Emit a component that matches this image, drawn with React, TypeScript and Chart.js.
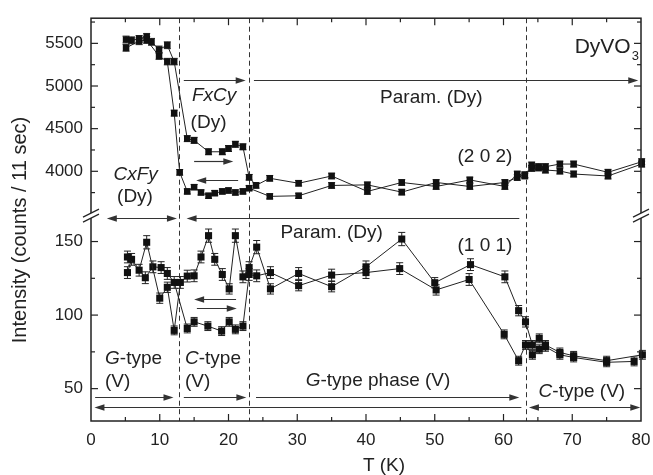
import React, { useEffect, useRef } from "react";
import { Chart, registerables } from "chart.js";

Chart.register(...registerables);

const FAMILY = "'Liberation Sans', Arial, Helvetica, sans-serif";
const INK = "#222";

// ---- (2 0 2) reflection, upper panel (counts) ----
const T_202_HEAT = [5.1, 5.9, 7.0, 8.1, 8.8, 9.9, 11.1, 12.1, 14.0, 15.0, 17.1, 19.1, 20.0, 21.0, 22.1, 23.0, 24.0, 26.0, 30.2, 35.0, 40.2, 45.2, 50.2, 55.1, 60.2, 62.0, 63.1, 64.1, 65.1, 66.1, 68.2, 70.2, 75.2, 80.1];
const I_202_HEAT = [5545, 5536, 5552, 5576, 5518, 5428, 5478, 5286, 4383, 4363, 4229, 4229, 4267, 4317, 4287, 3930, 3835, 3918, 3860, 3945, 3764, 3869, 3822, 3899, 3822, 3968, 3945, 4073, 4054, 4054, 4085, 4085, 3988, 4112];
const E_202_HEAT = [40, 40, 40, 40, 40, 40, 40, 38, 35, 35, 35, 35, 35, 35, 35, 33, 33, 33, 33, 33, 33, 33, 33, 33, 33, 33, 33, 35, 35, 35, 35, 35, 35, 35];

const T_202_COOL = [5.1, 7.0, 8.1, 9.9, 11.1, 12.1, 12.9, 14.0, 15.0, 16.0, 17.1, 18.0, 19.1, 20.0, 21.0, 22.1, 23.0, 26.0, 30.2, 35.0, 40.2, 45.2, 50.2, 55.1, 60.2, 62.0, 63.1, 64.1, 65.1, 66.1, 68.2, 70.2, 75.2, 80.1];
const I_202_COOL = [5448, 5525, 5540, 5351, 5286, 4682, 3988, 3764, 3814, 3752, 3713, 3744, 3764, 3775, 3752, 3764, 3802, 3706, 3713, 3834, 3841, 3756, 3869, 3822, 3869, 3927, 3960, 4035, 4040, 4015, 4003, 3968, 3945, 4085];
const E_202_COOL = [40, 40, 40, 38, 38, 35, 33, 30, 30, 30, 30, 30, 30, 30, 30, 30, 30, 30, 30, 33, 33, 33, 33, 33, 33, 33, 33, 35, 35, 35, 35, 35, 35, 35];

// ---- (1 0 1) reflection, lower panel (counts) ----
const T_101_COOL = [5.3, 7.0, 8.1, 10.0, 11.1, 12.1, 13.0, 14.0, 15.0, 16.0, 17.1, 18.0, 19.1, 20.1, 21.0, 22.1, 23.0, 24.1, 26.1, 30.2, 35.0, 40.0, 45.2, 50.0, 55.2, 60.2, 62.2, 63.2, 64.2, 65.2, 66.1, 68.2, 70.2, 75.0, 80.2];
const I_101_COOL = [139.5, 130.5, 149.5, 111.5, 118.9, 89.6, 122.2, 126.5, 126.7, 139.5, 154.0, 137.9, 127.6, 117.8, 154.0, 126.0, 132.3, 146.2, 117.8, 128.3, 119.3, 132.8, 151.7, 122.0, 134.3, 126.0, 103.0, 95.4, 79.7, 84.2, 79.7, 74.6, 72.3, 69.0, 73.0];
const E_101_COOL = [4, 4, 4.5, 3.5, 3.5, 3, 4, 4, 4, 4, 4.5, 4, 4, 3.5, 4.5, 4, 4, 4.5, 3.5, 4, 3.5, 4, 4.5, 3.5, 4, 4, 3.5, 3.5, 3, 3, 3, 3, 3, 3, 3];

const T_101_HEAT = [5.3, 5.9, 7.9, 9.0, 10.2, 11.1, 12.1, 14.0, 15.0, 17.0, 19.0, 20.1, 21.0, 22.1, 23.0, 24.1, 26.1, 30.2, 35.0, 40.0, 44.9, 50.2, 55.0, 60.1, 62.2, 63.2, 64.2, 65.2, 66.1, 68.2, 70.2, 75.0, 79.0];
const I_101_HEAT = [128.9, 137.9, 125.4, 132.8, 132.3, 128.3, 122.2, 90.9, 95.4, 92.5, 89.1, 95.4, 90.3, 92.5, 127.6, 126.7, 128.9, 120.0, 127.2, 128.9, 131.6, 117.1, 124.2, 86.9, 69.0, 79.7, 73.0, 76.8, 78.4, 73.0, 71.2, 67.9, 68.5];
const E_101_HEAT = [4, 4, 4, 4, 4, 4, 4, 3, 3, 3, 3, 3, 3, 3, 4, 4, 4, 3.5, 4, 4, 4, 3.5, 4, 3, 3, 3, 3, 3, 3, 3, 3, 3, 3];

// ---- axes ----
const X_TICKS = [0, 10, 20, 30, 40, 50, 60, 70, 80];
const TOP_TICKS = [4000, 4500, 5000, 5500];
const BOT_TICKS = [50, 100, 150];
const TOP_RANGE = [3480, 5795];
const BOT_RANGE = [28, 167.6];

// transition temperatures (dashed lines)
const TRANSITIONS = [12.85, 23.0, 63.2];

// arrows: [axis, level, fromT, toT, head]
const ARROWS: [string, number, number, number, string][] = [
  ["yTop", 5074, 13.5, 22.5, "end"],
  ["yTop", 5066, 23.7, 79.6, "end"],
  ["yTop", 4119, 15.0, 20.7, "end"],
  ["yTop", 3900, 15.3, 21.4, "start"],
  ["yBot", 166.3, 2.3, 12.5, "both"],
  ["yBot", 166.3, 13.9, 62.3, "start"],
  ["yBot", 110.6, 15.0, 21.1, "start"],
  ["yBot", 104.6, 15.4, 21.2, "end"],
  ["yBot", 44.2, 0.6, 12.0, "end"],
  ["yBot", 44.2, 13.5, 22.6, "end"],
  ["yBot", 44.2, 24.0, 62.3, "end"],
  ["yBot", 37.5, 0.5, 62.6, "start"],
  ["yBot", 37.5, 63.7, 79.9, "both"],
];

// labels: [axis, T, level, align, parts ([text, italic])]
const LABELS: [string, number, number, string, [string, boolean][]][] = [
  ["yTop", 17.9, 4881, "center", [["FxCy", true]]],
  ["yTop", 17.1, 4574, "center", [["(Dy)", false]]],
  ["yTop", 49.5, 4862, "center", [["Param. (Dy)", false]]],
  ["yTop", 57.3, 4173, "center", [["(2 0 2)", false]]],
  ["yTop", 6.5, 3957, "center", [["CxFy", true]]],
  ["yTop", 6.4, 3700, "center", [["(Dy)", false]]],
  ["yBot", 35.0, 156.2, "center", [["Param. (Dy)", false]]],
  ["yBot", 57.3, 146.8, "center", [["(1 0 1)", false]]],
  ["yBot", 2.04, 70.3, "left", [["G", true], ["-type", false]]],
  ["yBot", 2.04, 54.4, "left", [["(V)", false]]],
  ["yBot", 13.67, 70.3, "left", [["C", true], ["-type", false]]],
  ["yBot", 13.67, 54.4, "left", [["(V)", false]]],
  ["yBot", 41.75, 55.6, "center", [["G", true], ["-type phase (V)", false]]],
  ["yBot", 71.4, 48.2, "center", [["C", true], ["-type (V)", false]]],
];

function drawRich(ctx: any, parts: [string, boolean][], x: number, y: number, align: string, size: number) {
  const fontFor = (it: boolean) => `${it ? "italic " : ""}${size}px ${FAMILY}`;
  const widths = parts.map((p) => {
    ctx.font = fontFor(p[1]);
    return ctx.measureText(p[0]).width;
  });
  const total = widths.reduce((a, b) => a + b, 0);
  let cx = align === "center" ? x - total / 2 : align === "right" ? x - total : x;
  ctx.textAlign = "left";
  ctx.textBaseline = "middle";
  parts.forEach((p, i) => {
    ctx.font = fontFor(p[1]);
    ctx.fillText(p[0], cx, y);
    cx += widths[i];
  });
}

function drawArrow(ctx: any, x1: number, x2: number, y: number, head: string) {
  const hl = 10, hw = 3.2;
  let a = x1, b = x2;
  if (head === "start" || head === "both") a += hl - 2;
  if (head === "end" || head === "both") b -= hl - 2;
  ctx.beginPath();
  ctx.moveTo(a, y);
  ctx.lineTo(b, y);
  ctx.stroke();
  if (head === "start" || head === "both") {
    ctx.beginPath();
    ctx.moveTo(x1, y);
    ctx.lineTo(x1 + hl, y - hw);
    ctx.lineTo(x1 + hl, y + hw);
    ctx.closePath();
    ctx.fill();
  }
  if (head === "end" || head === "both") {
    ctx.beginPath();
    ctx.moveTo(x2, y);
    ctx.lineTo(x2 - hl, y - hw);
    ctx.lineTo(x2 - hl, y + hw);
    ctx.closePath();
    ctx.fill();
  }
}

const decor = {
  id: "decor",
  beforeDatasetsDraw(chart: any) {
    const { ctx, chartArea: a, scales } = chart;
    const xs = scales.x;
    ctx.save();
    ctx.strokeStyle = "#333";
    ctx.lineWidth = 1;
    ctx.setLineDash([5, 3.5]);
    TRANSITIONS.forEach((t) => {
      const x = Math.round(xs.getPixelForValue(t)) + 0.5;
      ctx.beginPath();
      ctx.moveTo(x, a.top);
      ctx.lineTo(x, a.bottom);
      ctx.stroke();
    });
    ctx.setLineDash([]);
    ctx.strokeStyle = INK;
    chart.data.datasets.forEach((ds: any, i: number) => {
      const meta = chart.getDatasetMeta(i);
      const ys = scales[ds.yAxisID];
      meta.data.forEach((el: any, j: number) => {
        const v = ds.data[j].y;
        const e = ds.errors[j];
        const x = el.x;
        const y1 = ys.getPixelForValue(v + e);
        const y2 = ys.getPixelForValue(v - e);
        ctx.beginPath();
        ctx.moveTo(x, y1);
        ctx.lineTo(x, y2);
        ctx.moveTo(x - 3.5, y1);
        ctx.lineTo(x + 3.5, y1);
        ctx.moveTo(x - 3.5, y2);
        ctx.lineTo(x + 3.5, y2);
        ctx.stroke();
      });
    });
    ctx.restore();
  },
  afterDatasetsDraw(chart: any) {
    const { ctx, chartArea: a, scales } = chart;
    const xs = scales.x;
    const yt = scales.yTop;
    const yb = scales.yBot;
    ctx.save();
    // frame
    ctx.strokeStyle = INK;
    ctx.lineWidth = 1.5;
    ctx.strokeRect(a.left, a.top, a.right - a.left, a.bottom - a.top);
    // ticks
    ctx.lineWidth = 1.2;
    const seg = (x1: number, y1: number, x2: number, y2: number) => {
      ctx.beginPath();
      ctx.moveTo(x1, y1);
      ctx.lineTo(x2, y2);
      ctx.stroke();
    };
    for (let t = 5; t < 80; t += 5) {
      const len = t % 10 === 0 ? 7 : 4;
      const x = xs.getPixelForValue(t);
      seg(x, a.bottom, x, a.bottom - len);
      seg(x, a.top, x, a.top + len);
    }
    const yTick = (y: number, len: number) => {
      seg(a.left, y, a.left + len, y);
      seg(a.right, y, a.right - len, y);
    };
    for (let v = 3750; v <= 5750; v += 250) yTick(yt.getPixelForValue(v), v % 500 === 0 ? 7 : 4);
    for (let v = 50; v <= 150; v += 25) yTick(yb.getPixelForValue(v), v % 50 === 0 ? 7 : 4);
    // axis breaks
    const ybk = yt.bottom;
    [a.left, a.right].forEach((x0) => {
      ctx.fillStyle = "#fff";
      ctx.beginPath();
      ctx.moveTo(x0 - 8, ybk - 2.5 + 4);
      ctx.lineTo(x0 + 8, ybk - 2.5 - 4);
      ctx.lineTo(x0 + 8, ybk + 2.5 - 4);
      ctx.lineTo(x0 - 8, ybk + 2.5 + 4);
      ctx.closePath();
      ctx.fill();
      ctx.strokeStyle = INK;
      ctx.lineWidth = 1.2;
      seg(x0 - 8, ybk - 2.5 + 4, x0 + 8, ybk - 2.5 - 4);
      seg(x0 - 8, ybk + 2.5 + 4, x0 + 8, ybk + 2.5 - 4);
    });
    // arrows
    ctx.strokeStyle = "#333";
    ctx.fillStyle = "#333";
    ctx.lineWidth = 1.2;
    ARROWS.forEach(([ax, lv, t1, t2, head]) => {
      const y = Math.round(scales[ax].getPixelForValue(lv)) + 0.5;
      drawArrow(ctx, xs.getPixelForValue(t1), xs.getPixelForValue(t2), y, head);
    });
    // labels
    ctx.fillStyle = INK;
    LABELS.forEach(([ax, t, lv, align, parts]) => {
      drawRich(ctx, parts, xs.getPixelForValue(t), scales[ax].getPixelForValue(lv), align, 19);
    });
    // compound name
    const nx = xs.getPixelForValue(78.5);
    const ny = yt.getPixelForValue(5455);
    ctx.font = `21px ${FAMILY}`;
    ctx.textAlign = "right";
    ctx.textBaseline = "middle";
    ctx.fillText("DyVO", nx, ny);
    ctx.font = `13px ${FAMILY}`;
    ctx.textAlign = "left";
    ctx.fillText("3", nx + 1, ny + 9);
    // axis titles
    ctx.font = `19px ${FAMILY}`;
    ctx.textAlign = "center";
    ctx.fillText("T (K)", 384, 466);
    ctx.save();
    ctx.translate(20, 230);
    ctx.rotate(-Math.PI / 2);
    ctx.font = `20px ${FAMILY}`;
    ctx.fillText("Intensity (counts / 11 sec)", 0, 0);
    ctx.restore();
    ctx.restore();
  },
};

function series(label: string, T: number[], I: number[], E: number[], axis: string, style: string, radius: number) {
  return {
    label,
    data: T.map((t, i) => ({ x: t, y: I[i] })),
    errors: E,
    yAxisID: axis,
    showLine: true,
    borderColor: INK,
    borderWidth: 1,
    pointStyle: style,
    pointRadius: radius,
    pointBackgroundColor: "#111",
    pointBorderColor: "#111",
    pointBorderWidth: 0,
    tension: 0,
    clip: false,
  };
}

const tickFont = { size: 17, family: FAMILY };

export default function App() {
  const ref = useRef<HTMLCanvasElement>(null);
  useEffect(() => {
    const canvas = ref.current as HTMLCanvasElement;
    const chart = new Chart(canvas, {
      type: "scatter",
      data: {
        datasets: [
          series("(2 0 2) heating", T_202_HEAT, I_202_HEAT, E_202_HEAT, "yTop", "rect", 4.6),
          series("(2 0 2) cooling", T_202_COOL, I_202_COOL, E_202_COOL, "yTop", "rect", 4.6),
          series("(1 0 1) cooling", T_101_COOL, I_101_COOL, E_101_COOL, "yBot", "rect", 5),
          series("(1 0 1) heating", T_101_HEAT, I_101_HEAT, E_101_HEAT, "yBot", "rect", 5),
        ] as any,
      },
      options: {
        responsive: false,
        devicePixelRatio: 1,
        animation: false,
        events: [],
        layout: { padding: { left: 0, right: 12, top: 13, bottom: 0 } },
        plugins: { legend: { display: false }, tooltip: { enabled: false } },
        scales: {
          x: {
            type: "linear",
            position: "bottom",
            min: 0,
            max: 80,
            grid: { display: false, drawTicks: false },
            border: { display: false },
            ticks: { font: tickFont, color: INK, padding: 9, maxRotation: 0, autoSkip: false, callback: (v: any) => String(v) },
            afterBuildTicks: (s: any) => {
              s.ticks = X_TICKS.map((v) => ({ value: v }));
            },
            afterFit: (s: any) => {
              s.height = 54;
              s.paddingLeft = 0;
              s.paddingRight = 0;
            },
          },
          yBot: {
            type: "linear",
            position: "left",
            stack: "intensity",
            stackWeight: 208,
            weight: 1,
            min: BOT_RANGE[0],
            max: BOT_RANGE[1],
            grid: { display: false, drawTicks: false },
            border: { display: false },
            ticks: { font: tickFont, color: INK, padding: 8, callback: (v: any) => String(v) },
            afterBuildTicks: (s: any) => {
              s.ticks = BOT_TICKS.map((v) => ({ value: v }));
            },
            afterFit: (s: any) => {
              s.width = 91;
            },
          },
          yTop: {
            type: "linear",
            position: "left",
            stack: "intensity",
            stackWeight: 200,
            weight: 2,
            min: TOP_RANGE[0],
            max: TOP_RANGE[1],
            grid: { display: false, drawTicks: false },
            border: { display: false },
            ticks: { font: tickFont, color: INK, padding: 8, callback: (v: any) => String(v) },
            afterBuildTicks: (s: any) => {
              s.ticks = TOP_TICKS.map((v) => ({ value: v }));
            },
            afterFit: (s: any) => {
              s.width = 91;
            },
          },
        },
      } as any,
      plugins: [decor],
    });
    return () => chart.destroy();
  }, []);
  return (
    <div style={{ position: "absolute", left: 0, top: 0, width: 653, height: 475, background: "#fff" }}>
      <canvas ref={ref} width={653} height={475} style={{ display: "block", width: 653, height: 475 }} />
    </div>
  );
}
